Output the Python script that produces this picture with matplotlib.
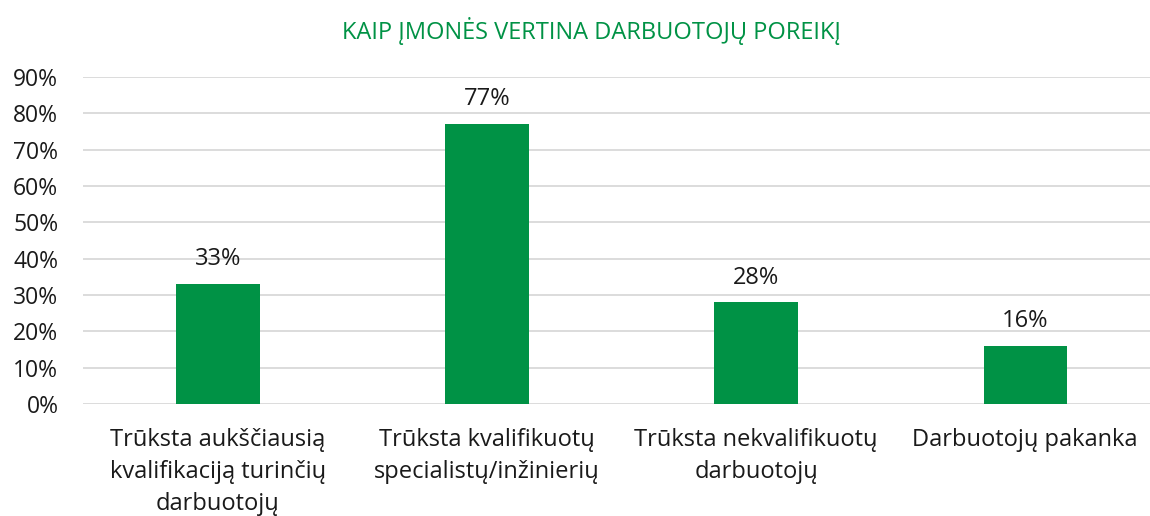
import matplotlib
matplotlib.use("Agg")
import matplotlib.pyplot as plt
from matplotlib.ticker import PercentFormatter

plt.rcParams["font.family"] = ["Open Sans", "DejaVu Sans"]

categories = [
    "Trūksta aukščiausią\nkvalifikaciją turinčių\ndarbuotojų",
    "Trūksta kvalifikuotų\nspecialistų/inžinierių",
    "Trūksta nekvalifikuotų\ndarbuotojų",
    "Darbuotojų pakanka",
]
values = [33, 77, 28, 16]
title = "KAIP ĮMONĖS VERTINA DARBUOTOJŲ POREIKĮ"

green = "#009245"
text_col = "#1a1a1a"

fig = plt.figure(figsize=(11.5, 5.16), dpi=100)
ax = fig.add_axes([0.0725, 0.217, 0.936, 0.634])

x = range(len(values))
ax.bar(x, values, width=0.31, color=green, zorder=3)
for xi, v in zip(x, values):
    ax.text(xi, v + 3.5, f"{v}%", ha="center", va="bottom", fontsize=17, color=text_col)

ax.set_xlim(-0.5, 3.5)
ax.set_ylim(0, 90)
ax.set_yticks(range(0, 91, 10))
ax.yaxis.set_major_formatter(PercentFormatter(decimals=0))
ax.set_xticks(list(x))
ax.set_xticklabels(categories, fontsize=17, color=text_col, linespacing=1.45)
ax.tick_params(axis="y", labelsize=16.5, colors=text_col, length=0, pad=18)
ax.tick_params(axis="x", length=0, pad=17)
ax.grid(axis="y", color="#d9d9d9", linewidth=1.3, zorder=0)
for s in ax.spines.values():
    s.set_visible(False)

fig.text(0.514, 0.94, title, ha="center", va="center", fontsize=17, color=green)

fig.savefig("out.png", dpi=100)
